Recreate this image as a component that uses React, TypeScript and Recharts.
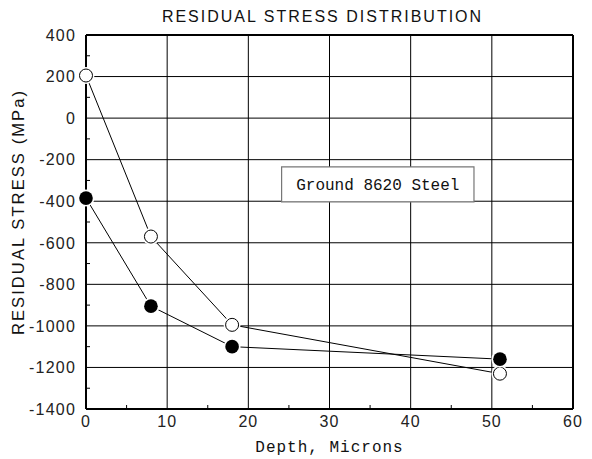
import React from "react";
import {
  LineChart,
  Line,
  XAxis,
  YAxis,
  CartesianGrid,
  ReferenceLine,
  ReferenceArea,
  Label,
} from "recharts";

const depth = [0, 8, 18, 51];
const openStress = [205, -570, -995, -1230];
const filledStress = [-385, -905, -1100, -1160];

const xTicks = [0, 5, 10, 15, 20, 25, 30, 35, 40, 45, 50, 55, 60];
const xMajor = [0, 10, 20, 30, 40, 50, 60];
const yTicks = [
  -1400, -1300, -1200, -1100, -1000, -900, -800, -700, -600, -500, -400, -300,
  -200, -100, 0, 100, 200, 300, 400,
];
const yMajor = [-1400, -1200, -1000, -800, -600, -400, -200, 0, 200, 400];

const data = depth.map((d, i) => ({
  depth: d,
  open: openStress[i],
  filled: filledStress[i],
}));

const TICK_FONT = "'Liberation Sans', Arial, sans-serif";
const MONO = "'Liberation Mono', 'DejaVu Sans Mono', monospace";

const YTick = (props: any) => {
  const { x, y, payload } = props;
  const major = payload.value % 200 === 0;
  return (
    <g>
      {!major && <line x1={x + 8} x2={x + 12} y1={y} y2={y} stroke="#000" />}
      {major && (
        <text
          x={x - 2}
          y={y}
          dy="0.36em"
          textAnchor="end"
          fontFamily={TICK_FONT}
          fontSize={16}
          letterSpacing={1.2}
          fill="#222"
        >
          {payload.value}
        </text>
      )}
    </g>
  );
};

const XTick = (props: any) => {
  const { x, y, payload } = props;
  const major = payload.value % 10 === 0;
  return (
    <g>
      {!major && <line x1={x} x2={x} y1={y - 6} y2={y - 10} stroke="#000" />}
      {major && (
        <text
          x={x}
          y={y}
          dy="0.78em"
          textAnchor="middle"
          fontFamily={TICK_FONT}
          fontSize={16}
          letterSpacing={1}
          fill="#222"
        >
          {payload.value}
        </text>
      )}
    </g>
  );
};

const OpenDot = (props: any) => {
  const { cx, cy, index } = props;
  return (
    <g key={`o-${index}`}>
      <circle cx={cx} cy={cy} r={8.5} fill="#fff" />
      <circle cx={cx} cy={cy} r={6.5} fill="#fff" stroke="#000" strokeWidth={1} />
    </g>
  );
};

const FilledDot = (props: any) => {
  const { cx, cy, index } = props;
  return (
    <g key={`f-${index}`}>
      <circle cx={cx} cy={cy} r={8.5} fill="#fff" />
      <circle cx={cx} cy={cy} r={6.8} fill="#000" />
    </g>
  );
};

export default function App() {
  return (
    <div style={{ position: "absolute", left: 0, top: 0, width: 592, height: 459, background: "#fff" }}>
      <div
        style={{
          position: "absolute",
          left: 79,
          width: 487,
          top: 8,
          textAlign: "center",
          fontFamily: TICK_FONT,
          fontSize: 16,
          letterSpacing: 2,
          color: "#111",
        }}
      >
        RESIDUAL STRESS DISTRIBUTION
      </div>
      <LineChart
        width={592}
        height={459}
        data={data}
        margin={{ top: 35, right: 19, bottom: 0, left: 0 }}
      >
        <CartesianGrid
          stroke="#000"
          strokeWidth={1}
          horizontalValues={yMajor}
          verticalValues={xMajor}
        />
        <XAxis
          dataKey="depth"
          type="number"
          domain={[0, 60]}
          ticks={xTicks}
          interval={0}
          tickLine={false}
          tickSize={0}
          tickMargin={6}
          tick={<XTick />}
          height={50}
          axisLine={{ stroke: "#000", strokeWidth: 2 }}
        >
          <Label
            value="Depth,  Microns"
            position="insideBottom"
            offset={7}
            style={{ fontFamily: MONO, fontSize: 16, letterSpacing: 1, fill: "#111" }}
          />
        </XAxis>
        <YAxis
          type="number"
          domain={[-1400, 400]}
          ticks={yTicks}
          interval={0}
          tickLine={false}
          tickSize={0}
          tickMargin={8}
          tick={<YTick />}
          width={86}
          axisLine={{ stroke: "#000", strokeWidth: 2 }}
        >
          <Label
            value="RESIDUAL  STRESS  (MPa)"
            angle={-90}
            position="insideLeft"
            offset={18}
            dy={-10}
            style={{ fontFamily: TICK_FONT, fontSize: 16.5, letterSpacing: 2.1, fill: "#111", textAnchor: "middle" }}
          />
        </YAxis>
        <ReferenceLine x={60} stroke="#000" strokeWidth={2} />
        <ReferenceLine y={400} stroke="#000" strokeWidth={2} />
        <ReferenceArea
          x1={24.1}
          x2={47.8}
          y1={-403}
          y2={-235}
          fill="#fff"
          fillOpacity={1}
          stroke="#777"
          strokeWidth={1.2}
        >
          <Label
            value="Ground 8620 Steel"
            position="center"
            style={{ fontFamily: MONO, fontSize: 16, fill: "#111" }}
          />
        </ReferenceArea>
        <Line
          dataKey="open"
          stroke="#000"
          strokeWidth={1}
          isAnimationActive={false}
          dot={<OpenDot />}
          activeDot={false}
        />
        <Line
          dataKey="filled"
          stroke="#000"
          strokeWidth={1}
          isAnimationActive={false}
          dot={<FilledDot />}
          activeDot={false}
        />
      </LineChart>
    </div>
  );
}
